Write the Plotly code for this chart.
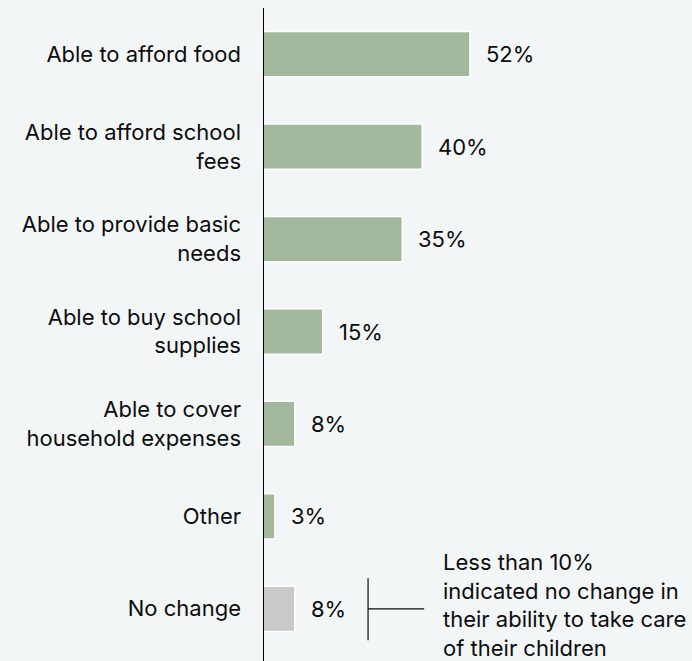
import plotly.graph_objects as go

categories = [
    "Able to afford food",
    "Able to afford school<br>fees",
    "Able to provide basic<br>needs",
    "Able to buy school<br>supplies",
    "Able to cover<br>household expenses",
    "Other",
    "No change",
]
values = [52, 40, 35, 15, 8, 3, 8]
bar_colors = ["#a3b99d"] * 6 + ["#c9c9c9"]
note_text = ("Less than 10%<br>indicated no change in<br>"
             "their ability to take care<br>of their children")

FONT = "Inter, Liberation Sans, Arial, sans-serif"
INK = "#0d0d0d"

fig = go.Figure(
    go.Bar(
        y=categories,
        x=values,
        orientation="h",
        marker=dict(color=bar_colors, line=dict(color="white", width=1.5)),
        hoverinfo="skip",
    )
)

# value labels to the right of each bar
for cat, val in zip(categories, values):
    fig.add_annotation(
        x=val, y=cat, text=f"{val}%", showarrow=False,
        xanchor="left", yanchor="middle", xshift=14,
        font=dict(family=FONT, size=22, color=INK),
    )

# bracket and note beside the "No change" bar
fig.add_shape(type="line", xref="x", yref="y",
              x0=26.4, x1=26.4, y0=5.67, y1=6.34,
              line=dict(color=INK, width=1.2))
fig.add_shape(type="line", xref="x", yref="y",
              x0=26.4, x1=40.5, y0=6, y1=6,
              line=dict(color=INK, width=1.2))
fig.add_annotation(
    x=45.0, y=6, xref="x", yref="y", text=note_text, showarrow=False,
    xanchor="left", yanchor="middle", align="left", yshift=4,
    borderpad=0,
    font=dict(family=FONT, size=22, color=INK),
)

# vertical baseline
fig.add_shape(type="line", xref="x", yref="paper",
              x0=0, x1=0, y0=-0.02, y1=1,
              line=dict(color="#000000", width=2))

fig.update_layout(
    width=692, height=661,
    margin=dict(l=263, r=0, t=8, b=6),
    paper_bgcolor="#f2f6f6",
    plot_bgcolor="#f2f6f6",
    showlegend=False,
    bargap=0.51,
    font=dict(family=FONT, size=22, color=INK),
    xaxis=dict(range=[0, 107.8], visible=False, fixedrange=True),
    yaxis=dict(
        autorange=False, range=[6.5, -0.5],
        showgrid=False, zeroline=False, showline=False,
        ticks="", ticklabelstandoff=21,
        tickfont=dict(family=FONT, size=22, color=INK),
        fixedrange=True,
    ),
)

fig.write_html("out.html")
